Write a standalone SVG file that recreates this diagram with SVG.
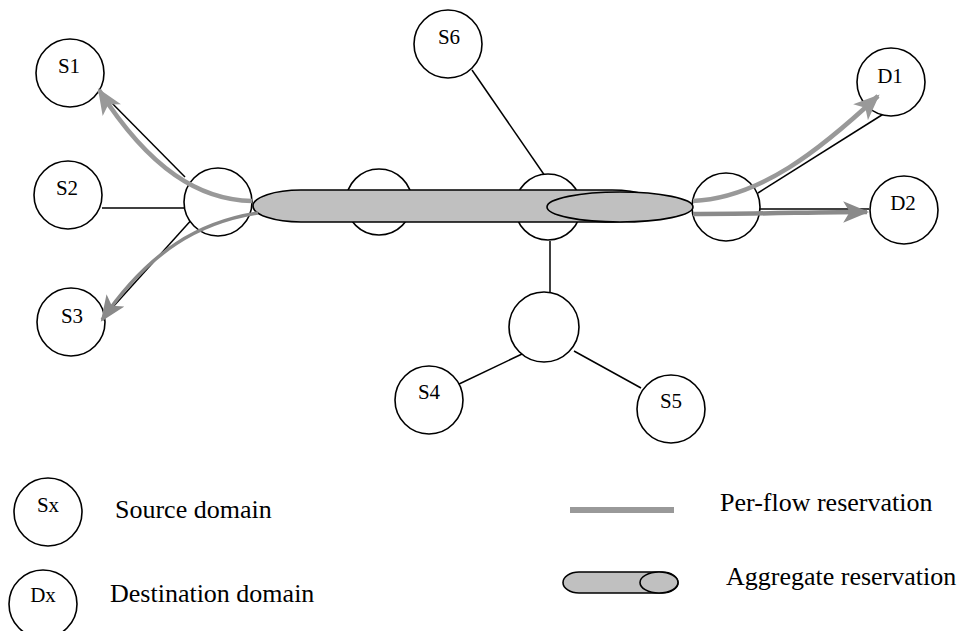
<svg xmlns="http://www.w3.org/2000/svg" width="964" height="631" viewBox="0 0 964 631">
<style>
.n{fill:#fff;stroke:#000;stroke-width:1.6}
.l{stroke:#000;stroke-width:1.5;fill:none}
.t{font-family:"Liberation Serif","Times New Roman",serif;font-size:21px;fill:#000;text-anchor:middle}
.lg{font-family:"Liberation Serif","Times New Roman",serif;font-size:26px;fill:#000}
.agg{fill:#c0c0c0;stroke:#000;stroke-width:1.6}
.pf{fill:none;stroke:#999;stroke-width:4.5}
</style>
<defs>
<marker id="ah" viewBox="0 0 24 20" refX="22" refY="10" markerWidth="26" markerHeight="22" markerUnits="userSpaceOnUse" orient="auto">
<path d="M0,0 L24,10 L0,20 L6,10 z" fill="#999"/>
</marker>
<marker id="ah2" viewBox="0 0 24 20" refX="22" refY="10" markerWidth="26" markerHeight="22" markerUnits="userSpaceOnUse" orient="auto">
<path d="M0,0 L24,10 L0,20 L6,10 z" fill="#8a8a8a"/>
</marker>
</defs>
<g id="connectors">
<line class="l" x1="185" y1="177" x2="99" y2="90"/>
<line class="l" x1="102" y1="208" x2="184" y2="208"/>
<line class="l" x1="194" y1="217" x2="103" y2="318"/>
<line class="l" x1="472" y1="70" x2="545" y2="176"/>
<line class="l" x1="550" y1="241" x2="550" y2="295"/>
<line class="l" x1="522" y1="354" x2="457" y2="385"/>
<line class="l" x1="574" y1="351" x2="641" y2="388"/>
<line class="l" x1="758" y1="193" x2="885" y2="113"/>
<line class="l" x1="760" y1="209" x2="869" y2="209"/>
</g>
<g id="S1"><circle class="n" cx="70" cy="73" r="34"/><text class="t" x="69" y="73">S1</text></g>
<g id="S2"><circle class="n" cx="68" cy="195" r="34"/><text class="t" x="67" y="195">S2</text></g>
<g id="S3"><circle class="n" cx="71" cy="322" r="34"/><text class="t" x="72" y="323">S3</text></g>
<g id="R1"><circle class="n" cx="218" cy="202" r="34"/></g>
<g id="R2"><circle class="n" cx="379" cy="202" r="33"/></g>
<g id="R3"><circle class="n" cx="548" cy="207" r="33"/></g>
<g id="R4"><circle class="n" cx="726" cy="207" r="34"/></g>
<g id="R5"><circle class="n" cx="544" cy="327" r="35"/></g>
<g id="S6"><circle class="n" cx="448" cy="44" r="34"/><text class="t" x="449" y="44">S6</text></g>
<g id="D1"><circle class="n" cx="891" cy="82" r="34"/><text class="t" x="890" y="83">D1</text></g>
<g id="D2"><circle class="n" cx="904" cy="210" r="34"/><text class="t" x="903" y="210">D2</text></g>
<g id="S4"><circle class="n" cx="429" cy="400" r="34"/><text class="t" x="429" y="399">S4</text></g>
<g id="S5"><circle class="n" cx="671" cy="409" r="34"/><text class="t" x="671" y="408">S5</text></g>
<g id="aggregate">
<rect class="agg" x="253" y="190" width="407" height="32" rx="48" ry="16"/>
<ellipse class="agg" cx="620" cy="207" rx="73" ry="15"/>
</g>
<g id="perflow">
<path class="pf" d="M252,201 C200,200 150,170 99,90" marker-end="url(#ah)"/>
<path class="pf" d="M258,213 C200,222 150,250 102,320" style="stroke:#8a8a8a;stroke-width:3.5" marker-end="url(#ah2)"/>
<path class="pf" d="M693,201 C760,198 820,150 878,96" marker-end="url(#ah)"/>
<path class="pf" d="M693,214 C760,214 820,212 867,212" style="stroke:#8a8a8a" marker-end="url(#ah2)"/>
</g>
<g id="legend">
<g id="legend-source"><circle class="n" cx="48" cy="512" r="34"/><text class="t" x="48" y="512">Sx</text><text class="lg" x="115" y="518">Source domain</text></g>
<g id="legend-dest"><circle class="n" cx="43" cy="604" r="34"/><text class="t" x="43" y="602">Dx</text><text class="lg" x="110" y="602">Destination domain</text></g>
<g id="legend-perflow"><line x1="570" y1="510" x2="674" y2="510" stroke="#999" stroke-width="6"/><text class="lg" x="720" y="511">Per-flow reservation</text></g>
<g id="legend-agg"><rect class="agg" x="563" y="572" width="115" height="21" rx="16" ry="10.5"/><ellipse class="agg" cx="659" cy="582.5" rx="19" ry="10.5"/><text class="lg" x="726" y="585">Aggregate reservation</text></g>
</g>
</svg>
